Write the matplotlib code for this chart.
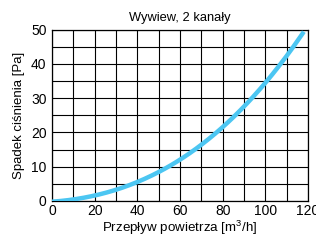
import matplotlib
matplotlib.use("Agg")
import matplotlib.pyplot as plt
import numpy as np

plt.rcParams["font.family"] = ["Liberation Sans", "DejaVu Sans"]
plt.rcParams["mathtext.fontset"] = "custom"
plt.rcParams["mathtext.rm"] = "Liberation Sans"
plt.rcParams["mathtext.default"] = "regular"

przeplyw = [0, 10, 20, 30, 40, 50, 60, 70, 80, 90, 100, 110, 118]
spadek = [0, 0.35, 1.4, 3.2, 5.5, 8.5, 12.2, 16.6, 21.8, 27.6, 34.2, 41.6, 50]

x_ticks = [0, 20, 40, 60, 80, 100, 120]
y_ticks = [0, 10, 20, 30, 40, 50]

fig = plt.figure(figsize=(3.16, 2.4), dpi=100)
ax = fig.add_axes([0.1646, 0.1625, 0.8104, 0.7145])

# gładka krzywa przez odczytane punkty
xs = np.linspace(przeplyw[0], przeplyw[-1], 200)
coef = np.polyfit(przeplyw, spadek, 3)
ys = np.polyval(coef, xs)
ax.plot(xs, ys, color="#4cc6f2", lw=3.2, solid_capstyle="butt", zorder=3)

ax.set_xlim(0, 120)
ax.set_ylim(0, 50)
ax.set_xticks(x_ticks)
ax.set_yticks(y_ticks)
ax.set_xticks(np.arange(0, 121, 10), minor=True)
ax.set_yticks(np.arange(0, 51, 5), minor=True)
ax.grid(which="both", color="black", lw=0.8)
ax.tick_params(which="both", length=0, labelsize=10, pad=4)
ax.tick_params(axis="x", pad=2.5)
for s in ax.spines.values():
    s.set_linewidth(0.9)

ax.set_title("Wywiew, 2 kanały", fontsize=9.3, pad=6)
ax.set_xlabel("Przepływ powietrza [m$^3$/h]", fontsize=9.6, labelpad=0.5)
ax.set_ylabel("Spadek ciśnienia [Pa]", fontsize=9.5, labelpad=4)

fig.savefig("out.png", dpi=100)
